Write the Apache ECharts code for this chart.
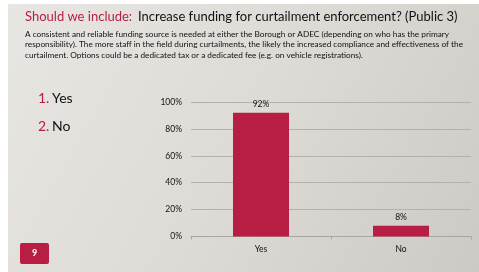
<!DOCTYPE html>
<html><head><meta charset="utf-8">
<script src="https://cdn.jsdelivr.net/npm/echarts@6/dist/echarts.min.js"></script>
<style>html,body{margin:0;padding:0;background:#fff}#c{width:479px;height:272px}</style>
</head><body><div id="c"></div>
<script>
const categories = ['Yes', 'No'];
const values = [92, 8];
const yTicks = [0, 20, 40, 60, 80, 100];
const legendItems = ['Yes', 'No'];
const titleRed = 'Should we include:';
const titleBlack = 'Increase funding for curtailment enforcement? (Public 3)';
const bodyLines = [
  'A consistent and reliable funding source is needed at either the Borough or ADEC (depending on who has the primary',
  'responsibility). The more staff in the field during curtailments, the likely the increased compliance and effectiveness of the',
  'curtailment. Options could be a dedicated tax or a dedicated fee (e.g. on vehicle registrations).'
];
const slideNumber = '9';

const RED = '#b81e44';
const FONT = 'Lato, "Noto Sans", sans-serif';
const chart = echarts.init(document.getElementById('c'), null, {renderer: 'canvas'});
const graphics = [
  {type: 'rect', z: -10, shape: {x: 8, y: 4, width: 471, height: 268},
   style: {fill: new echarts.graphic.LinearGradient(0, 0, 1, 1, [
     {offset: 0, color: '#e8e6e2'}, {offset: 0.5, color: '#dedbd7'}, {offset: 1, color: '#cdcac5'}])}},
  {type: 'text', left: 25, top: 10, style: {text: titleRed, fill: RED, font: '13px ' + FONT}},
  {type: 'text', left: 138, top: 10, style: {text: titleBlack, fill: '#111', font: '13px ' + FONT}},
  {type: 'text', left: 25, top: 28.5, style: {text: bodyLines.join('\n'), fill: '#111', font: '8.25px ' + FONT, lineHeight: 10.7}},
  {type: 'rect', shape: {x: 20, y: 243, width: 29, height: 21, r: 2}, style: {fill: RED}},
  {type: 'text', x: 34.5, y: 253.5, style: {text: slideNumber, fill: '#fff', font: 'bold 9px ' + FONT, align: 'center', verticalAlign: 'middle'}}
];
legendItems.forEach((t, i) => {
  graphics.push({type: 'text', x: 38, y: 98 + i * 28, style: {text: (i + 1) + '.', fill: RED, font: '14px ' + FONT, verticalAlign: 'middle'}});
  graphics.push({type: 'text', x: 52, y: 98 + i * 28, style: {text: t, fill: '#111', font: '14px ' + FONT, verticalAlign: 'middle'}});
});

chart.setOption({
  animation: false,
  backgroundColor: '#ffffff',
  graphic: graphics,
  grid: {left: 191, right: 8, top: 102, bottom: 35.5},
  xAxis: {type: 'category', data: categories,
    axisLine: {show: true, lineStyle: {color: '#a8a6a2', width: 1}},
    axisTick: {show: true, length: 3, lineStyle: {color: '#a8a6a2'}},
    axisLabel: {color: '#111', fontSize: 8.5, fontFamily: FONT, margin: 8}},
  yAxis: {type: 'value', min: 0, max: 100, interval: 20,
    axisLine: {show: false}, axisTick: {show: false},
    axisLabel: {color: '#111', fontSize: 8.5, fontFamily: FONT, margin: 9,
      formatter: v => yTicks.includes(v) ? v + '%' : ''},
    splitLine: {lineStyle: {color: '#b4b1ad', width: 1}}},
  series: [{type: 'bar', data: values, barWidth: '40%',
    itemStyle: {color: RED},
    label: {show: true, position: 'top', formatter: '{c}%', color: '#111', fontSize: 8.5, fontFamily: FONT, distance: 4}}]
});
</script></body></html>
